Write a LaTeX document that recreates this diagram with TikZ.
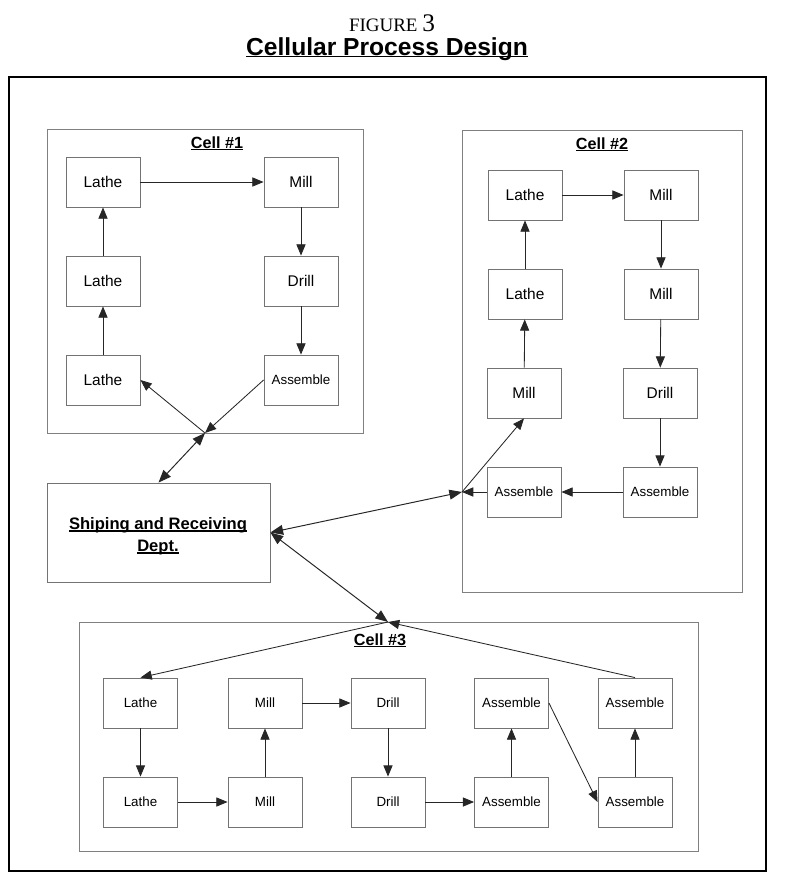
\documentclass[tikz,border=0pt]{standalone}
\usepackage{fontspec}
\setmainfont{Liberation Sans}
\newfontfamily\figfont{Liberation Serif}
\usetikzlibrary{
	arrows.meta,
	positioning
}

% underline that sits close to the baseline
\newcommand{\lowline}[1]{\setbox0\hbox{#1}\rlap{\rule[-1.6pt]{\wd0}{0.8pt}}\box0}

\tikzset{
	machine/.style={draw=black!55,line width=0.6pt,minimum width=1.85cm,minimum height=1.25cm,inner sep=0pt,font=\fontsize{11}{13}\selectfont},
	smallmachine/.style={machine,font=\fontsize{9.5}{11}\selectfont},
	cellbox/.style={draw=black!50,line width=0.6pt},
	celltitle/.style={anchor=base,font=\bfseries\fontsize{11.5}{14}\selectfont},
	flow/.style={-{Triangle[length=8pt,width=6.5pt]},line width=0.6pt,black!85},
	twoway/.style={{Triangle[length=9pt,width=7pt]}-{Triangle[length=9pt,width=7pt]},line width=0.7pt,black!85}
}

\begin{document}
\begin{tikzpicture}[x=0.025cm,y=-0.025cm]
		\useasboundingbox (0,0) rectangle (790,894);
		
		% Title
		\node[anchor=base] (fig) at (392,31) {\figfont\fontsize{13.5}{16}\selectfont FIGURE \fontsize{18}{20}\selectfont 3};
		\node[anchor=base] (title) at (387,55) {\bfseries\fontsize{17.5}{20}\selectfont\lowline{Cellular Process Design}};
		\draw[line width=2pt] (9,77) rectangle (766,871);
		
		% Cell 1
		\draw[cellbox] (47,129) rectangle (363,433);
		\node[celltitle] (c1) at (217,148) {\lowline{Cell \#1}};
		\node[machine] (l1a) at (103,182) {Lathe};
		\node[machine] (m1) at (301,182) {Mill};
		\node[machine] (l1b) at (103,281) {Lathe};
		\node[machine] (d1) at (301,281) {Drill};
		\node[machine] (l1c) at (103,380) {Lathe};
		\node[smallmachine] (a1) at (301,380) {Assemble};
		\coordinate (j1) at (205,433);
		
		\draw[flow] (l1a)--(m1);
		\draw[flow] (m1)--(d1);
		\draw[flow] (d1)--(a1);
		\draw[flow] (l1c)--(l1b);
		\draw[flow] (l1b)--(l1a);
		\draw[flow] (a1.west)--(j1);
		\draw[flow] (j1)--(l1c.east);
		
		% Cell 2
		\draw[cellbox] (462,130) rectangle (742,592);
		\node[celltitle] (c2) at (602,149) {\lowline{Cell \#2}};
		\node[machine] (l2a) at (525,195) {Lathe};
		\node[machine] (m2a) at (661,195) {Mill};
		\node[machine] (l2b) at (525,294) {Lathe};
		\node[machine] (m2b) at (661,294) {Mill};
		\node[machine] (m2c) at (524,393) {Mill};
		\node[machine] (d2) at (660,393) {Drill};
		\node[smallmachine] (a2a) at (524,492) {Assemble};
		\node[smallmachine] (a2b) at (660,492) {Assemble};
		\coordinate (j2) at (462,492);
		
		\draw[flow] (l2a)--(m2a);
		\draw[flow] (m2a)--(m2b);
		\draw[flow] (m2b)--(d2);
		\draw[flow] (d2)--(a2b);
		\draw[flow] (a2b)--(a2a);
		\draw[flow] (a2a)--(j2);
		\draw[flow] (j2)--(m2c.south);
		\draw[flow] (m2c)--(l2b);
		\draw[flow] (l2b)--(l2a);
		
		% Shipping and receiving
		\node[draw=black!55,line width=0.6pt,minimum width=5.575cm,minimum height=2.475cm] (ship) at (158.5,532.5) {};
		\node[align=center,font=\bfseries\fontsize{11.8}{15.6}\selectfont] (shiptext) at (158,536) {\lowline{Shiping and Receiving}\\\lowline{Dept.}};
		\coordinate (j3) at (388,622);
		
		\draw[twoway] (j1)--(ship.north);
		\draw[twoway] (ship.east)--(j2);
		\draw[twoway] (ship.east)--(j3);
		
		% Cell 3
		\draw[cellbox] (79,622) rectangle (698,851);
		\node[celltitle] (c3) at (380,645) {\lowline{Cell \#3}};
		\node[smallmachine] (l3a) at (140.5,703) {Lathe};
		\node[smallmachine] (m3a) at (265,703) {Mill};
		\node[smallmachine] (d3a) at (388,703) {Drill};
		\node[smallmachine] (a3a) at (511.5,703) {Assemble};
		\node[smallmachine] (a3c) at (635,703) {Assemble};
		\node[smallmachine] (l3b) at (140.5,802) {Lathe};
		\node[smallmachine] (m3b) at (265,802) {Mill};
		\node[smallmachine] (d3b) at (388,802) {Drill};
		\node[smallmachine] (a3b) at (511.5,802) {Assemble};
		\node[smallmachine] (a3d) at (635,802) {Assemble};
		
		\draw[flow] (j3)--(l3a.north);
		\draw[flow] (l3a)--(l3b);
		\draw[flow] (l3b)--(m3b);
		\draw[flow] (m3b)--(m3a);
		\draw[flow] (m3a)--(d3a);
		\draw[flow] (d3a)--(d3b);
		\draw[flow] (d3b)--(a3b);
		\draw[flow] (a3b)--(a3a);
		\draw[flow] (a3a.east)--(a3d.west);
		\draw[flow] (a3d)--(a3c);
		\draw[flow] (a3c.north)--(j3);
		
	\end{tikzpicture}
\end{document}
